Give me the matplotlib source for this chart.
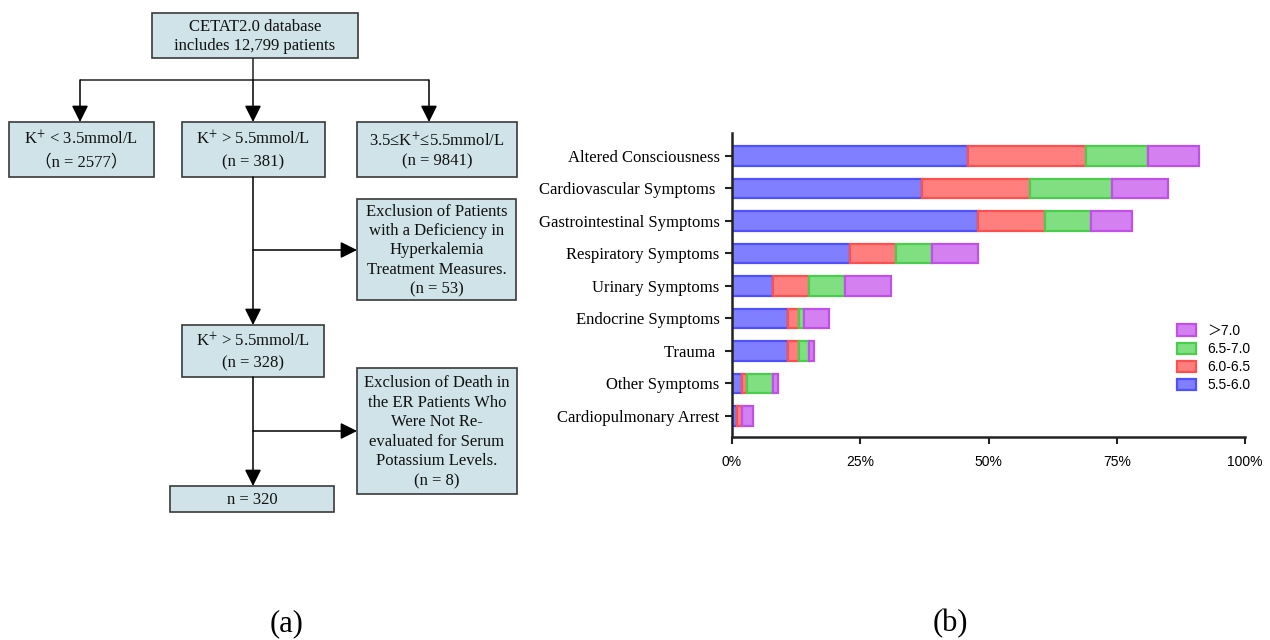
import matplotlib.pyplot as plt
from matplotlib.patches import Rectangle
import numpy as np

plt.rcParams['mathtext.fontset'] = 'stix'

# symptom categories, top to bottom, and % of patients per potassium band
symptoms = ['Altered Consciousness', 'Cardiovascular Symptoms ', 'Gastrointestinal Symptoms',
            'Respiratory Symptoms', 'Urinary Symptoms', 'Endocrine Symptoms', 'Trauma ',
            'Other Symptoms', 'Cardiopulmonary Arrest']
bands = ['5.5-6.0', '6.0-6.5', '6.5-7.0', '＞7.0']
k_55_60 = [46, 37, 48, 23, 8, 11, 11, 2, 1]
k_60_65 = [23, 21, 13, 9, 7, 2, 2, 1, 1]
k_65_70 = [12, 16, 9, 7, 7, 1, 2, 5, 0]
k_70_up = [10, 11, 8, 9, 9, 5, 1, 1, 2]
x_ticks = [0, 25, 50, 75, 100]

fills = ['#7f7fff', '#ff7f7f', '#80df80', '#d580f0']
edges = ['#5050ff', '#ff5050', '#4ccc4c', '#c050e8']

serif = ['Liberation Serif', 'DejaVu Serif', 'Noto Sans CJK SC']
sans = ['Liberation Sans', 'Noto Sans CJK SC']
box_fill = '#cfe3e9'
box_edge = '#3a3a3a'

fig = plt.figure(figsize=(12.7, 6.4), dpi=100)

# flowchart drawn in pixel coordinates
fa = fig.add_axes([0, 0, 1, 1])
fa.set_xlim(0, 1270)
fa.set_ylim(640, 0)
fa.axis('off')


def box(x0, y0, x1, y1, text, ls=1.0):
    fa.add_patch(Rectangle((x0, y0), x1 - x0, y1 - y0, facecolor=box_fill,
                           edgecolor=box_edge, lw=1.2))
    fa.text((x0 + x1) / 2, (y0 + y1) / 2 + 1, text, ha='center', va='center',
            fontsize=12, family=serif, linespacing=ls, color='#111111')


def line(xs, ys):
    fa.plot(xs, ys, color='#222222', lw=1.1, solid_capstyle='butt')


def arrow(x0, y0, x1, y1):
    fa.annotate('', xy=(x1, y1), xytext=(x0, y0),
                arrowprops=dict(arrowstyle='-|>,head_length=1.0,head_width=0.5',
                                color='black', lw=1.1, shrinkA=0, shrinkB=0))


box(152, 13, 358, 58, 'CETAT2.0 database\nincludes 12,799 patients', 1.2)
line([253, 253], [58, 80])
line([80, 429], [80, 80])
arrow(80, 80, 80, 122)
arrow(253, 80, 253, 122)
arrow(429, 80, 429, 122)

box(9, 122, 154, 177, 'K$^{+}$ < 3.5mmol/L\n（n = 2577）', 1.5)
box(182, 122, 325, 177, 'K$^{+}$ > 5.5mmol/L\n(n = 381)', 1.5)
box(357, 122, 517, 177, '3.5≤K$^{+}$≤5.5mmol/L\n(n = 9841)', 1.3)

arrow(253, 177, 253, 325)
arrow(253, 250, 357, 250)
box(357, 199, 516, 300, 'Exclusion of Patients\nwith a Deficiency in\nHyperkalemia\n'
    'Treatment Measures.\n(n = 53)', 1.27)

box(182, 325, 324, 377, 'K$^{+}$ > 5.5mmol/L\n(n = 328)', 1.4)
arrow(253, 377, 253, 486)
arrow(253, 431, 357, 431)
box(357, 368, 517, 494, 'Exclusion of Death in\nthe ER Patients Who\nWere Not Re-\n'
    'evaluated for Serum\nPotassium Levels.\n(n = 8)', 1.3)
box(170, 486, 334, 512, 'n = 320')

fa.text(287, 624, '(a)', ha='center', va='center', fontsize=22, family=serif)
fa.text(950, 624, '(b)', ha='center', va='center', fontsize=22, family=serif)

# stacked horizontal bars
ax = fig.add_axes([732 / 1270, 1 - 437 / 640, 513 / 1270, 304 / 640])
y = np.arange(len(symptoms))
left = np.zeros(len(symptoms))
handles = []
for vals, name, fc, ec in zip([k_55_60, k_60_65, k_65_70, k_70_up], bands, fills, edges):
    vals = np.array(vals, dtype=float)
    h = ax.barh(y, vals, left=left, height=0.6, color=fc, edgecolor=ec,
                linewidth=1.6, label=name)
    handles.append(h)
    left += vals

ax.set_ylim(len(symptoms) - 1 + 0.65, -0.7)
ax.set_xlim(0, 100)
ax.set_yticks(y)
ax.set_yticklabels(symptoms, family=serif, fontsize=12)
ax.set_xticks(x_ticks)
ax.set_xticklabels([f'{t}%' for t in x_ticks], family='Liberation Sans', fontsize=10)
ax.tick_params(axis='both', length=5, width=1.5, color='#222222')
ax.tick_params(axis='x', pad=8)
ax.tick_params(axis='y', pad=4)
for s in ['top', 'right']:
    ax.spines[s].set_visible(False)
for s in ['left', 'bottom']:
    ax.spines[s].set_linewidth(1.8)
    ax.spines[s].set_color('#222222')

fig.legend(handles[::-1], bands[::-1], loc='upper left',
           bbox_to_anchor=(1170 / 1270, 1 - 317 / 640), frameon=False,
           prop={'family': sans, 'size': 10}, handlelength=1.4,
           handleheight=0.9, labelspacing=0.3, borderpad=0, handletextpad=0.8)

fig.savefig('out.png', dpi=100)
